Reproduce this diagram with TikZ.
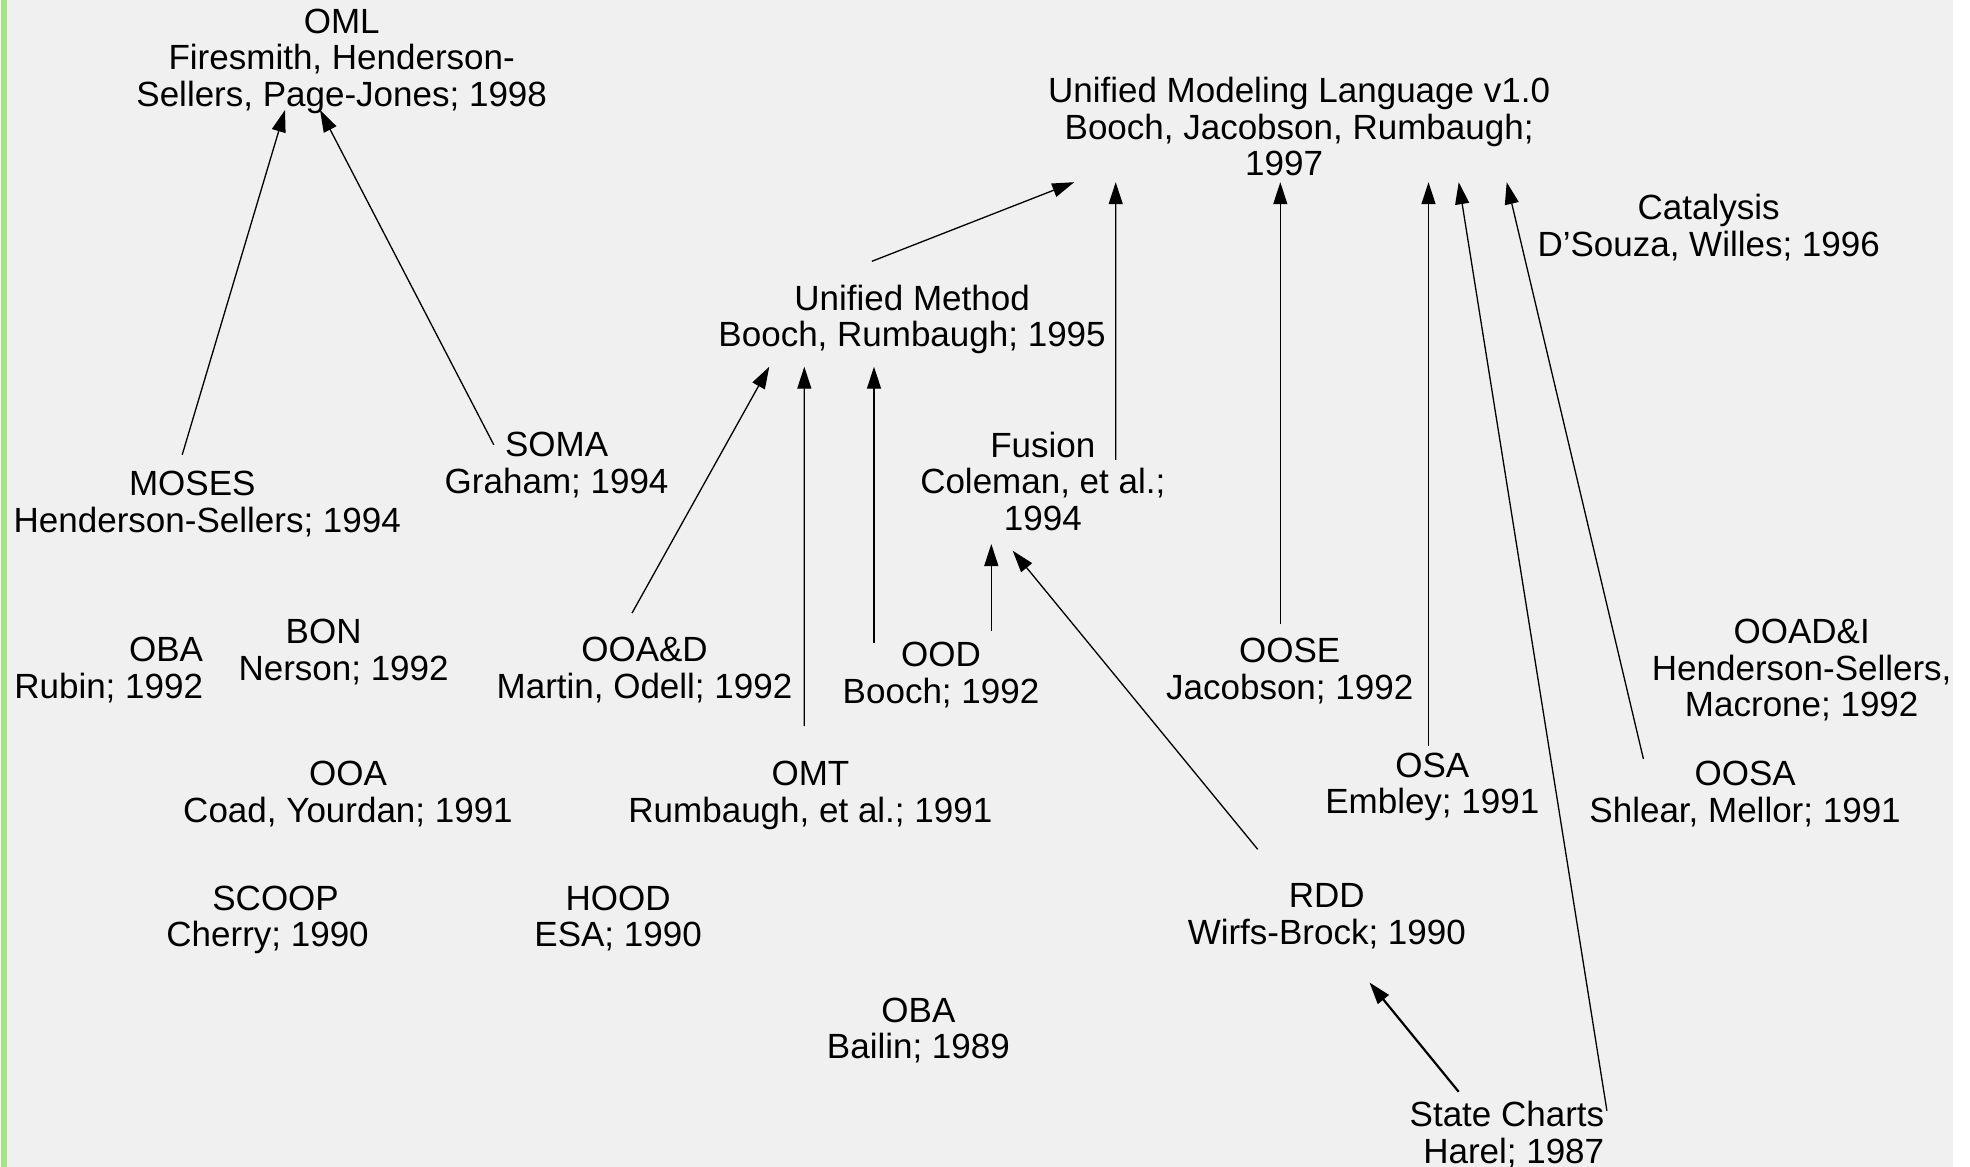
\documentclass[tikz,border=0pt]{standalone}
\usepackage{fontspec}
\setmainfont{Liberation Sans}
\usetikzlibrary{arrows.meta}
\definecolor{bggrey}{RGB}{240,240,240}
\definecolor{edgegreen}{RGB}{163,228,135}
\newcommand\lblfont{\fontsize{35pt}{36.5pt}\selectfont}
\tikzset{
  lbl/.style={align=center, inner sep=0pt, font=\lblfont,
    execute at begin node=\strut, execute at end node=\strut},
  arr/.style={-{Triangle[length=22pt,width=14pt]}, line width=1.3pt, black},
  arrthick/.style={arr, line width=2.2pt}
}
\begin{document}
\begin{tikzpicture}[x=1pt,y=-1pt]
\fill[white] (0,0) rectangle (1970,1167);
\fill[bggrey] (1,0) rectangle (1953,1167);
\fill[edgegreen] (1,0) rectangle (7,1167);
\useasboundingbox (0,0) rectangle (1970,1167);

\node[lbl] (oml) at (341.7,63.1) {OML\\Firesmith, Henderson-\\Sellers, Page-Jones; 1998};
\node[lbl] (uml) at (1299.1,132.2) {Unified Modeling Language v1.0\\Booch, Jacobson, Rumbaugh;\\1997\hspace*{30pt}};
\node[lbl] (cat) at (1708.7,230.8) {Catalysis\\D’Souza, Willes; 1996};
\node[lbl] (um) at (912.1,321.2) {Unified Method\\Booch, Rumbaugh; 1995};
\node[lbl] (soma) at (556.6,468.2) {SOMA\\Graham; 1994};
\node[lbl] (fusion) at (1042.8,486.5) {Fusion\\Coleman, et al.;\\1994};
\node[lbl] (moses) at (207.3,507.2) {MOSES\hspace*{30pt}\\Henderson-Sellers; 1994};
\node[lbl, align=right] (obar) at (108.7,673.1) {OBA\\Rubin; 1992};
\node[lbl] (bon) at (343.6,655.4) {BON\hspace*{40pt}\\Nerson; 1992};
\node[lbl] (ooad) at (644.5,673.1) {OOA\&D\\Martin, Odell; 1992};
\node[lbl] (ood) at (941.0,678.1) {OOD\\Booch; 1992};
\node[lbl] (oose) at (1289.7,674.3) {OOSE\\Jacobson; 1992};
\node[lbl] (ooadi) at (1801.7,673.7) {OOAD\&I\\Henderson-Sellers,\\Macrone; 1992};
\node[lbl] (osa) at (1432.3,788.6) {OSA\\Embley; 1991};
\node[lbl] (oosa) at (1745.1,797.4) {OOSA\\Shlear, Mellor; 1991};
\node[lbl] (ooa) at (348.0,797.4) {OOA\\Coad, Yourdan; 1991};
\node[lbl] (omt) at (810.4,797.4) {OMT\\Rumbaugh, et al.; 1991};
\node[lbl] (scoop) at (267.6,921.8) {\hspace*{16pt}SCOOP\\Cherry; 1990};
\node[lbl] (hood) at (618.1,921.8) {HOOD\\ESA; 1990};
\node[lbl] (rdd) at (1326.8,919.3) {RDD\\Wirfs-Brock; 1990};
\node[lbl] (obab) at (918.4,1033.6) {OBA\\Bailin; 1989};
\node[lbl, align=right, anchor=east] (sc) at (1604.4,1137.9) {State Charts\\Harel; 1987};

\draw[arr] ([shift={(-25.1,-52.4)}]moses.center) -- ([shift={(-56.7,46.9)}]oml.center);
\draw[arr] ([shift={(-62.8,-23.4)}]soma.center) -- ([shift={(-21.7,46.9)}]oml.center);
\draw[arr] ([shift={(-40.2,-59.9)}]um.center) -- ([shift={(-224.9,50.0)}]uml.center);
\draw[arr] ([shift={(72.9,-26.7)}]fusion.center) -- ([shift={(-183.4,50.0)}]uml.center);
\draw[arr] ([shift={(-9.4,-49.9)}]oose.center) -- ([shift={(-18.8,50.0)}]uml.center);
\draw[arr] ([shift={(-3.8,-42.3)}]osa.center) -- ([shift={(129.4,50.0)}]uml.center);
\draw[arr] ([shift={(2.5,-27.2)}]sc.east) -- ([shift={(159.6,50.0)}]uml.center);
\draw[arr] ([shift={(-101.7,-38.5)}]oosa.center) -- ([shift={(207.6,50.0)}]uml.center);
\draw[arr] ([shift={(-12.5,-60.0)}]ooad.center) -- ([shift={(-142.8,45.5)}]um.center);
\draw[arr] ([shift={(-6.1,-71.2)}]omt.center) -- ([shift={(-107.8,45.5)}]um.center);
\draw[arr] ([shift={(-67.0,-34.8)}]ood.center) -- ([shift={(-38.1,45.5)}]um.center);
\draw[arr] ([shift={(50.3,-47.4)}]ood.center) -- ([shift={(-51.5,57.5)}]fusion.center);
\draw[arr] ([shift={(-69.1,-70.0)}]rdd.center) -- ([shift={(-30.1,64.2)}]fusion.center);
\draw[arrthick] ([shift={(-145.7,-46.1)}]sc.east) -- ([shift={(42.7,63.2)}]rdd.center);
\end{tikzpicture}
\end{document}
